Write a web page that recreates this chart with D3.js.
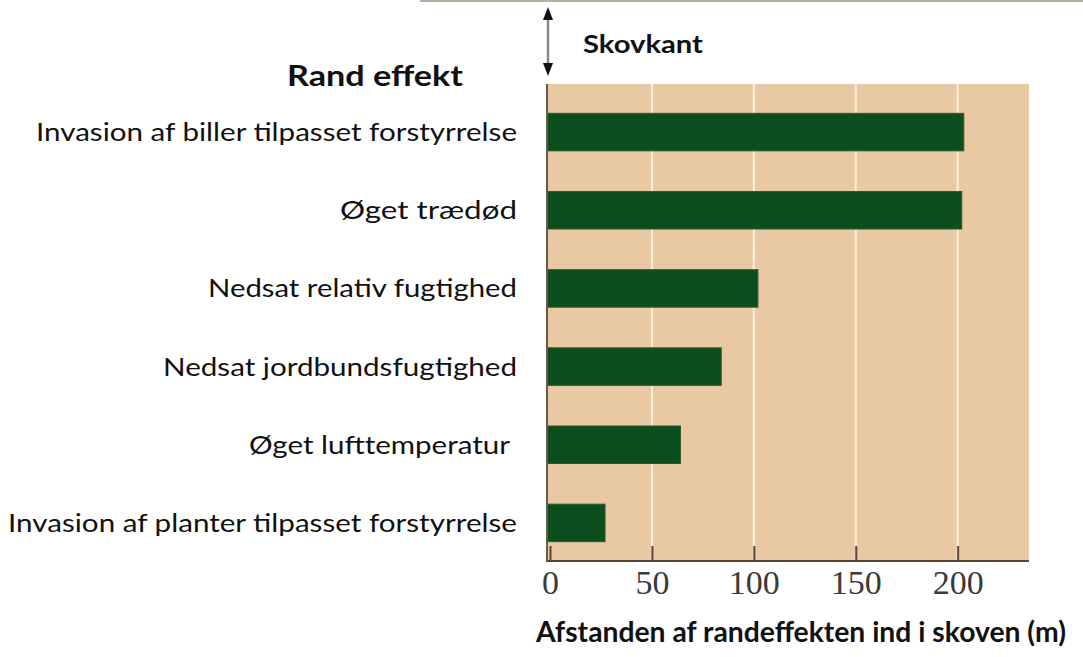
<!DOCTYPE html>
<html>
<head>
<meta charset="utf-8">
<style>
  body { margin: 0; background: #fff; }
  svg { display: block; }
</style>
</head>
<body>
<div id="chart"></div>
<script src="https://cdn.jsdelivr.net/npm/d3@7"></script>
<script>
var width = 1083, height = 657;

var categories = [
    'Invasion af biller tilpasset forstyrrelse',
    'Øget trædød',
    'Nedsat relativ fugtighed',
    'Nedsat jordbundsfugtighed',
    'Øget lufttemperatur',
    'Invasion af planter tilpasset forstyrrelse'
];
var values = [203, 202, 102, 84, 64, 27];
var tickValues = [0, 50, 100, 150, 200];
var labelWidths = [481, 177, 309, 354, 261, 509];

var sans = 'Lato, "Open Sans", sans-serif';

var svg = d3.select('#chart')
    .append('svg')
    .attr('width', width)
    .attr('height', height);

var x = d3.scaleLinear()
    .domain([0, 235])
    .range([550, 1029]);

var y = d3.scaleBand()
    .domain(categories)
    .range([93, 562])
    .paddingInner(0.52)
    .paddingOuter(0.26);

var plotTop = 84, plotBottom = 561;

// thin line at the very top
svg.append('line')
    .attr('x1', 420).attr('x2', width)
    .attr('y1', 1).attr('y2', 1)
    .attr('stroke', '#a9b6a0')
    .attr('stroke-width', 2);

// tan background
svg.append('rect')
    .attr('x', 547)
    .attr('y', plotTop)
    .attr('width', x(235) - 547)
    .attr('height', plotBottom - plotTop)
    .attr('fill', '#e9c8a4');

// grid lines
svg.selectAll('.grid')
    .data(tickValues.slice(1))
    .enter().append('line')
    .attr('class', 'grid')
    .attr('x1', function(d){ return x(d); })
    .attr('x2', function(d){ return x(d); })
    .attr('y1', plotTop)
    .attr('y2', plotBottom)
    .attr('stroke', '#fdf0da')
    .attr('stroke-width', 2);

// bars
svg.selectAll('.bar')
    .data(categories)
    .enter().append('rect')
    .attr('class', 'bar')
    .attr('x', x(0) - 3)
    .attr('y', function(d){ return y(d); })
    .attr('width', function(d, i){ return x(values[i]) - x(0) + 3; })
    .attr('height', y.bandwidth())
    .attr('fill', '#0b4f1f')
    .attr('stroke', '#2f5a2a')
    .attr('stroke-width', 1);

// category labels
svg.selectAll('.label')
    .data(categories)
    .enter().append('text')
    .attr('class', 'label')
    .attr('x', function(d, i){ return i == 4 ? 510 : 517; })
    .attr('y', function(d){ return y(d) + y.bandwidth() / 2 + 9; })
    .attr('text-anchor', 'end')
    .attr('font-family', sans)
    .attr('font-size', 25)
    .attr('fill', '#111')
    .attr('textLength', function(d, i){ return labelWidths[i]; })
    .attr('lengthAdjust', 'spacingAndGlyphs')
    .text(function(d){ return d; });

// axis
var axis = d3.axisBottom(x)
    .tickValues(tickValues)
    .tickSize(-15)
    .tickSizeOuter(0)
    .tickPadding(9);

var gx = svg.append('g')
    .attr('transform', 'translate(0,' + plotBottom + ')')
    .call(axis);

gx.select('.domain').remove();
gx.selectAll('.tick line')
    .attr('stroke', '#5a4636')
    .attr('stroke-width', 2);
gx.selectAll('.tick text')
    .attr('font-family', '"Liberation Serif", "Times New Roman", serif')
    .attr('font-size', 34)
    .attr('fill', '#3a3a3a');

// axis lines
svg.append('line')
    .attr('x1', 546).attr('x2', x(235))
    .attr('y1', plotBottom).attr('y2', plotBottom)
    .attr('stroke', '#5a4636')
    .attr('stroke-width', 2);
svg.append('line')
    .attr('x1', 547).attr('x2', 547)
    .attr('y1', plotTop).attr('y2', plotBottom)
    .attr('stroke', '#6b5848')
    .attr('stroke-width', 2);

// double arrow for Skovkant
svg.append('line')
    .attr('x1', 548).attr('x2', 548)
    .attr('y1', 16).attr('y2', 66)
    .attr('stroke', '#888')
    .attr('stroke-width', 2.5);
svg.append('path')
    .attr('d', 'M548,7 L543,20 L553,20 Z')
    .attr('fill', '#111');
svg.append('path')
    .attr('d', 'M548,76 L543,63 L553,63 Z')
    .attr('fill', '#111');

svg.append('text')
    .attr('x', 583)
    .attr('y', 53)
    .attr('font-family', sans)
    .attr('font-weight', 'bold')
    .attr('font-size', 25)
    .attr('textLength', 120)
    .attr('lengthAdjust', 'spacingAndGlyphs')
    .attr('fill', '#111')
    .text('Skovkant');

svg.append('text')
    .attr('x', 287)
    .attr('y', 86)
    .attr('font-family', sans)
    .attr('font-weight', 'bold')
    .attr('font-size', 29)
    .attr('textLength', 176)
    .attr('lengthAdjust', 'spacingAndGlyphs')
    .attr('fill', '#111')
    .text('Rand effekt');

svg.append('text')
    .attr('x', 536)
    .attr('y', 642)
    .attr('font-family', sans)
    .attr('font-weight', 'bold')
    .attr('font-size', 29)
    .attr('textLength', 530)
    .attr('lengthAdjust', 'spacingAndGlyphs')
    .attr('fill', '#111')
    .text('Afstanden af randeffekten ind i skoven (m)');
</script>
</body>
</html>
